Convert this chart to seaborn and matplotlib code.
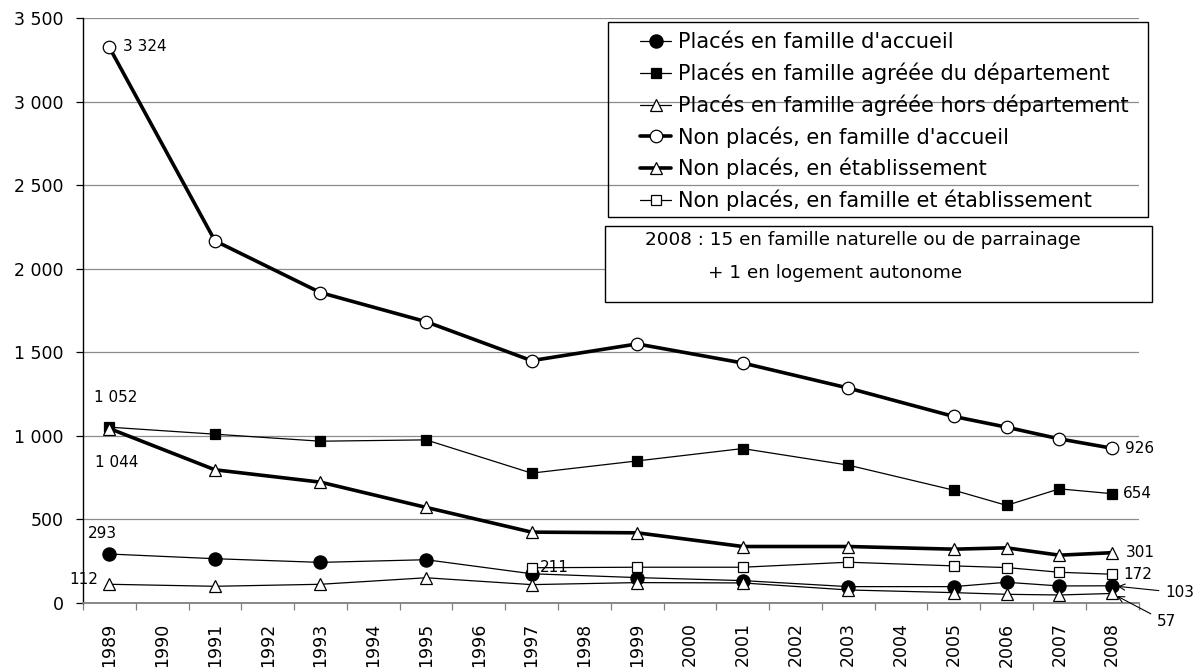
import numpy as np
import pandas as pd
import matplotlib
matplotlib.use("Agg")
import matplotlib.pyplot as plt
from matplotlib.patches import Rectangle
from matplotlib.ticker import FixedLocator, FuncFormatter
import seaborn as sns

# ---- data -------------------------------------------------------------
tick_years = list(range(1989, 2009))
years = [1989, 1991, 1993, 1995, 1997, 1999, 2001, 2003, 2005, 2006, 2007, 2008]

places_famille_accueil = [293, 265, 243, 259, 175, 152, 134, 98, 98, 124, 102, 103]
places_agree_dept = [1052, 1010, 968, 976, 777, 850, 924, 825, 675, 584, 683, 654]
places_agree_hors_dept = [112, 100, 112, 151, 110, 122, 120, 78, 62, 52, 48, 57]
non_places_famille = [3324, 2167, 1857, 1683, 1450, 1550, 1436, 1286, 1116, 1052, 982, 926]
non_places_etab = [1044, 797, 723, 572, 424, 420, 338, 338, 322, 330, 286, 301]
non_places_famille_etab = [np.nan, np.nan, np.nan, np.nan, 211, 214, 214, 244, 222, 212, 184, 172]

series_names = [
    "Placés en famille d'accueil",
    "Placés en famille agréée du département",
    "Placés en famille agréée hors département",
    "Non placés, en famille d'accueil",
    "Non placés, en établissement",
    "Non placés, en famille et établissement",
]
series_values = [
    places_famille_accueil,
    places_agree_dept,
    places_agree_hors_dept,
    non_places_famille,
    non_places_etab,
    non_places_famille_etab,
]
note_lines = ["2008 : 15 en famille naturelle ou de parrainage",
              "+ 1 en logement autonome"]

# ---- styling per series ----------------------------------------------
styles = [
    dict(marker="o", ms=9.5, mfc="black", lw=0.9),
    dict(marker="s", ms=7.5, mfc="black", lw=0.9),
    dict(marker="^", ms=9, mfc="white", lw=0.9),
    dict(marker="o", ms=9, mfc="white", lw=2.6),
    dict(marker="^", ms=9, mfc="white", lw=2.6),
    dict(marker="s", ms=7.5, mfc="white", lw=0.9),
]

sns.set_theme(style="white")
plt.rcParams["font.family"] = ["DejaVu Sans"]
plt.rcParams.update({"text.color": "black", "axes.labelcolor": "black",
                     "xtick.color": "black", "ytick.color": "black"})

W, H = 1200, 669
fig = plt.figure(figsize=(W / 100, H / 100), dpi=100)


def fx(px):
    return px / W


def fy(py):
    return 1 - py / H


left, right, top, bottom = 83, 1138.5, 18, 603
ax = fig.add_axes([fx(left), fy(bottom), fx(right - left), (bottom - top) / H])

for name, vals, st in zip(series_names, series_values, styles):
    df = pd.DataFrame({"year": years, "value": vals}).dropna()
    sns.lineplot(data=df, x="year", y="value", ax=ax, color="black",
                 linewidth=st["lw"], marker=st["marker"], markersize=st["ms"],
                 markerfacecolor=st["mfc"], markeredgecolor="black",
                 markeredgewidth=0.9, label=name, legend=False)

ax.set_xlim(1988.5, 2008.5)
ax.set_ylim(0, 3500)
ax.set_xlabel("")
ax.set_ylabel("")

# x axis: labels at each year, tick marks between years
ax.set_xticks(tick_years)
ax.set_xticklabels([str(y) for y in tick_years], rotation=90, fontsize=12.5)
ax.xaxis.set_minor_locator(FixedLocator(np.arange(1988.5, 2009, 1.0)))
ax.tick_params(axis="x", which="major", length=0, pad=14, labelcolor="black")
ax.tick_params(axis="x", which="minor", length=5, width=0.9, color="#808080",
               direction="out", bottom=True)

# y axis
ax.set_yticks(np.arange(0, 3501, 500))
ax.yaxis.set_major_formatter(FuncFormatter(lambda v, p: f"{int(v):,}".replace(",", " ")))
ax.tick_params(axis="y", which="major", length=5, width=0.9, color="black",
               direction="out", left=True, pad=9, labelsize=12.5,
               labelcolor="black")
ax.yaxis.grid(True, color="#8c8c8c", linewidth=0.9)
ax.xaxis.grid(False)

for s in ["top", "right"]:
    ax.spines[s].set_visible(False)
ax.spines["left"].set_color("black")
ax.spines["left"].set_linewidth(1)
ax.spines["bottom"].set_color("#808080")
ax.spines["bottom"].set_linewidth(1.3)

# ---- value labels -------------------------------------------------------
lab_kw = dict(textcoords="offset points", fontsize=11, annotation_clip=False,
              color="black")
ax.annotate("3 324", (1989, non_places_famille[0]), xytext=(9.5, 0.5),
            ha="left", va="center", **lab_kw)
ax.annotate("1 052", (1989, places_agree_dept[0]), xytext=(4.5, 21),
            ha="center", va="center", **lab_kw)
ax.annotate("1 044", (1989, non_places_etab[0]), xytext=(5, -24.5),
            ha="center", va="center", **lab_kw)
ax.annotate("293", (1989, places_famille_accueil[0]), xytext=(-5, 14.5),
            ha="center", va="center", **lab_kw)
ax.annotate("112", (1989, places_agree_hors_dept[0]), xytext=(-8, 3.6),
            ha="right", va="center", **lab_kw)
ax.annotate("211", (1997, non_places_famille_etab[4]), xytext=(6, 0),
            ha="left", va="center", **lab_kw)
ax.annotate("926", (2008, non_places_famille[-1]), xytext=(9, 0),
            ha="left", va="center", **lab_kw)
ax.annotate("654", (2008, places_agree_dept[-1]), xytext=(8, 0),
            ha="left", va="center", **lab_kw)
ax.annotate("301", (2008, non_places_etab[-1]), xytext=(10, 0),
            ha="left", va="center", **lab_kw)
ax.annotate("172", (2008, non_places_famille_etab[-1]), xytext=(8, 0),
            ha="left", va="center", **lab_kw)
arrow = dict(arrowstyle="->", color="black", lw=0.8, shrinkA=2, shrinkB=4)
ax.annotate("103", (2008, places_famille_accueil[-1]), xytext=(38, -5),
            ha="left", va="center", arrowprops=arrow, **lab_kw)
ax.annotate("57", (2008, places_agree_hors_dept[-1]), xytext=(32, -20.5),
            ha="left", va="center", arrowprops=arrow, **lab_kw)

# ---- legend in a framed box ---------------------------------------------
handles, labels = ax.get_legend_handles_labels()
leg = fig.legend(handles, labels, loc="upper left",
                 bbox_to_anchor=(fx(640), fy(32.5)), bbox_transform=fig.transFigure,
                 frameon=False, fontsize=15, borderpad=0, borderaxespad=0,
                 handlelength=1.5, handletextpad=0.33, labelspacing=0.49,
                 numpoints=1)
for t in leg.get_texts():
    t.set_color("black")
fig.add_artist(Rectangle((fx(608), fy(217)), fx(1148 - 608), (217 - 22) / H,
                         transform=fig.transFigure, fill=False,
                         edgecolor="black", linewidth=1))

# ---- note box -------------------------------------------------------------
fig.add_artist(Rectangle((fx(605), fy(302)), fx(1152 - 605), (302 - 226) / H,
                         transform=fig.transFigure, facecolor="white",
                         edgecolor="black", linewidth=1))
fig.text(fx(645), fy(240), note_lines[0], fontsize=13.2, ha="left", va="center")
fig.text(fx(708), fy(273), note_lines[1], fontsize=13.2, ha="left", va="center")

fig.savefig("out.png", dpi=100)
